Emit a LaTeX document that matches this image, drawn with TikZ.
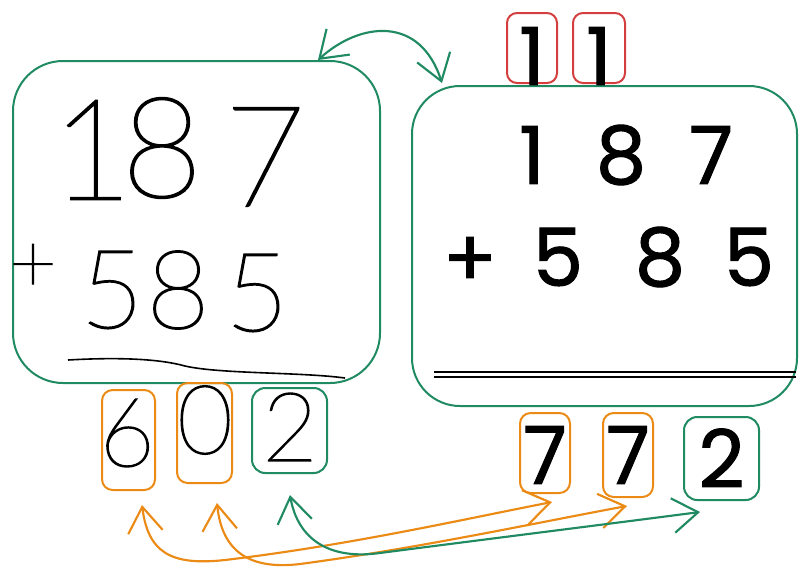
\documentclass[tikz,border=0pt]{standalone}
\usepackage{fontspec}
\usetikzlibrary{arrows.meta}
\newfontfamily\handf{Poppins}[FakeBold=1.3]
\newfontfamily\thinf{Lato Thin}[FakeBold=1.5]
\definecolor{exgreen}{RGB}{32,138,98}
\definecolor{exorange}{RGB}{235,138,20}
\definecolor{exred}{RGB}{212,62,62}
\tikzset{
  box/.style={draw, line width=1.5pt, rectangle, inner sep=0pt},
  gbox/.style={box, draw=exgreen},
  obox/.style={box, draw=exorange},
  rbox/.style={box, draw=exred},
  bigthin/.style={inner sep=0pt, font=\thinf\fontsize{105}{105}\selectfont},
  midthin/.style={inner sep=0pt, font=\thinf\fontsize{82}{82}\selectfont},
  botthin/.style={inner sep=0pt, font=\thinf\fontsize{72}{72}\selectfont},
  hand/.style={inner sep=0pt, font=\handf\fontsize{60}{60}\selectfont},
  arr/.style={line width=1.6pt, line cap=round, {Straight Barb[length=19pt,width=26pt]}-{Straight Barb[length=19pt,width=26pt]}},
}
\begin{document}
\begin{tikzpicture}[x=0.75pt,y=-0.75pt]
\useasboundingbox (0,0) rectangle (800,572);
% main boxes
\node[gbox, minimum width=275.25pt, minimum height=241.5pt, rounded corners=37.5pt] (L) at (196.5,222) {};
\node[gbox, minimum width=288.75pt, minimum height=240pt, rounded corners=36pt] (R) at (604.5,246) {};
% left handwritten sum
\node[bigthin] (l1) at (92,150) {1};
\node[bigthin] (l8) at (162,148) {8};
\node[bigthin] (l7) at (265,157) {7};
\node[inner sep=0pt, font=\thinf\fontsize{62}{62}\selectfont] (lplus) at (33,268) {+};
\node[midthin] (l5a) at (112,290) {5};
\node[midthin] (l8b) at (178,290) {8};
\node[midthin] (l5b) at (257,293) {5};
\draw[line width=1.2pt] (68,360) .. controls (120,357) and (160,359) .. (185,366) .. controls (220,374) and (300,372) .. (345,378);
% right sum
\node[hand] (r1) at (532,155) {1};
\node[hand] (r8) at (621,155) {8};
\node[hand] (r7) at (711,155) {7};
\node[hand] (rplus) at (470,262) {+};
\node[hand] (r5a) at (558,257) {5};
\node[hand] (r8b) at (660,257) {8};
\node[hand] (r5b) at (749,257) {5};
\draw[line width=1pt] (434,372) -- (796,372);
\draw[line width=1.4pt] (434,377) -- (796,377);
% carries
\node[rbox, minimum width=37.5pt, minimum height=52.5pt, rounded corners=7.5pt] (c1) at (532,48) {};
\node[rbox, minimum width=39pt, minimum height=52.5pt, rounded corners=7.5pt] (c2) at (599,48) {};
\node[hand] (c1t) at (532,56) {1};
\node[hand] (c2t) at (599,56) {1};
% left result
\node[obox, minimum width=39.75pt, minimum height=75pt, rounded corners=8pt] (o6) at (128.5,440) {};
\node[obox, minimum width=41.25pt, minimum height=75pt, rounded corners=8pt] (o0) at (204.5,433) {};
\node[gbox, minimum width=56.25pt, minimum height=63.75pt, rounded corners=10pt] (g2) at (289.5,430.5) {};
\node[botthin] (t6) at (127,433) {6};
\node[botthin] (t0) at (205,420) {0};
\node[botthin] (t2) at (290,427) {2};
% right result
\node[obox, minimum width=37.5pt, minimum height=60pt, rounded corners=8pt] (o7a) at (545,453) {};
\node[obox, minimum width=37.5pt, minimum height=63pt, rounded corners=8pt] (o7b) at (628,455) {};
\node[gbox, minimum width=56.25pt, minimum height=62.25pt, rounded corners=10pt] (g2b) at (721.5,458.5) {};
\node[hand] (u7a) at (545,455) {7};
\node[hand] (u7b) at (628,455) {7};
\node[hand] (u2) at (721.5,458) {2};
% connectors
\coordinate (a1) at (318,60);
\coordinate (a2) at (442,83);
\draw[arr, exgreen] (a1) .. controls (360,22) and (420,15) .. (a2);
\coordinate (b1s) at (142,505);
\coordinate (b1e) at (552,502);
\draw[arr, exorange] (b1s) .. controls (148,552) and (170,566) .. (225,560) .. controls (350,545) and (460,520) .. (b1e);
\coordinate (b2s) at (217,503);
\coordinate (b2e) at (627,506);
\draw[arr, exorange] (b2s) .. controls (222,552) and (250,570) .. (300,564) .. controls (420,548) and (540,522) .. (b2e);
\coordinate (b3s) at (290,495);
\coordinate (b3e) at (700,512);
\draw[arr, exgreen] (b3s) .. controls (298,540) and (330,560) .. (380,553) .. controls (480,540) and (600,525) .. (b3e);
\end{tikzpicture}
\end{document}
